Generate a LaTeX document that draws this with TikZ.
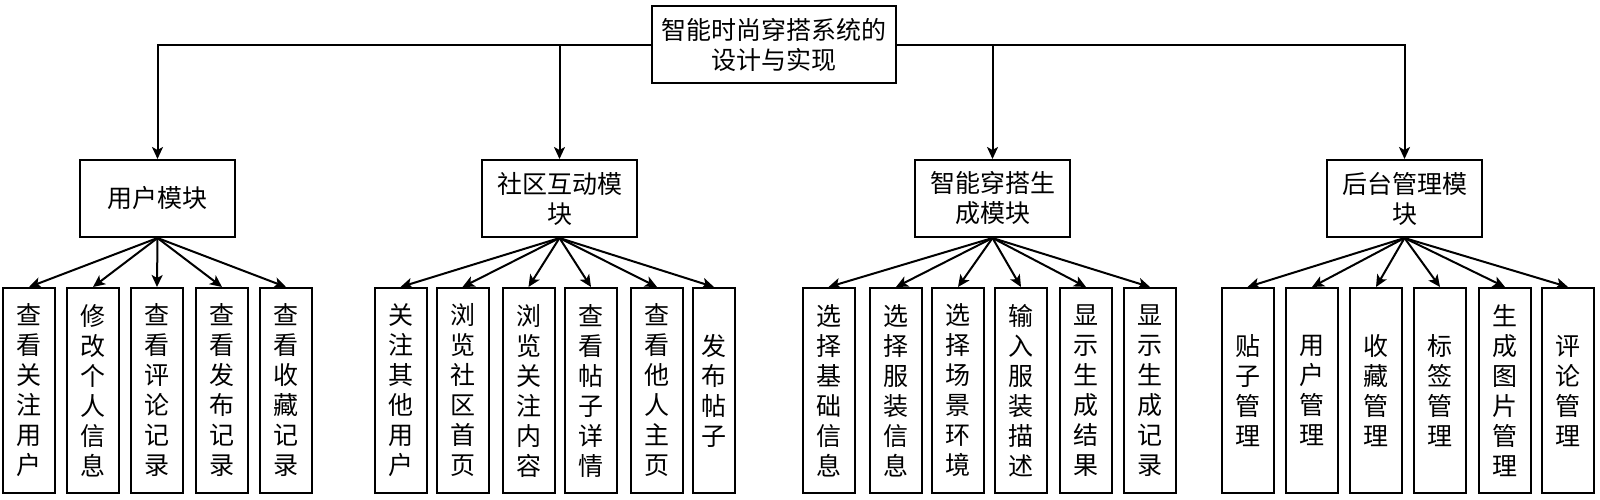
\documentclass[tikz,border=0pt]{standalone}
\usepackage{fontspec}
\newfontfamily\cjk{Noto Sans CJK SC}
\usetikzlibrary{arrows.meta}
\begin{document}
\begin{tikzpicture}[x=1pt,y=-1pt,
		every node/.style={font=\cjk\fontsize{25}{30}\selectfont, align=center, inner sep=0pt},
		box/.style={draw, line width=2pt},
		mod/.style={box, minimum width=155pt, minimum height=77pt},
		leaf/.style={box, minimum width=52pt, minimum height=205pt},
		arr/.style={line width=2pt, -{Stealth[length=12pt,width=11pt,inset=3pt]}}]
		\useasboundingbox (0,0) rectangle (1600,499);
		\node[box, minimum width=244pt, minimum height=77pt] (root) at (774,44.5) {智能时尚穿搭系统的\\设计与实现};
		\node[mod] (user) at (157.5,198.5) {用户模块};
		\node[mod] (comm) at (559.5,198.5) {社区互动模\\块};
		\node[mod] (gen) at (992.5,198.5) {智能穿搭生\\成模块};
		\node[mod] (admin) at (1404.5,198.5) {后台管理模\\块};
		\draw[arr] (root.west) -| (user.north);
		\draw[arr] (root.east) -| (admin.north);
		\draw[arr] (comm.north |- root.west) -- (comm.north);
		\draw[arr] (gen.north |- root.east) -- (gen.north);
		% leaves
		\foreach \n/\x/\t in {u1/29/{查\\看\\关\\注\\用\\户}, u2/93/{修\\改\\个\\人\\信\\息},
			u3/157/{查\\看\\评\\论\\记\\录}, u4/222/{查\\看\\发\\布\\记\\录}, u5/286/{查\\看\\收\\藏\\记\\录}}
		{
			\node[leaf] (\n) at (\x,390.5) {\t};
			\draw[arr] (user.south) -- (\n.north);
		}
		\foreach \n/\x/\t in {c1/400.5/{关\\注\\其\\他\\用\\户}, c2/462.5/{浏\\览\\社\\区\\首\\页},
			c3/528.5/{浏\\览\\关\\注\\内\\容}, c4/591/{查\\看\\帖\\子\\详\\情}, c5/657/{查\\看\\他\\人\\主\\页}}
		{
			\node[leaf] (\n) at (\x,390.5) {\t};
			\draw[arr] (comm.south) -- (\n.north);
		}
		\node[leaf, minimum width=42pt] (c6) at (714,390.5) {发\\布\\帖\\子};
		\draw[arr] (comm.south) -- (c6.north);
		\foreach \n/\x/\t in {g1/828.5/{选\\择\\基\\础\\信\\息}, g2/896/{选\\择\\服\\装\\信\\息},
			g3/958/{选\\择\\场\\景\\环\\境}, g4/1021/{输\\入\\服\\装\\描\\述},
			g5/1086/{显\\示\\生\\成\\结\\果}, g6/1150/{显\\示\\生\\成\\记\\录}}
		{
			\node[leaf] (\n) at (\x,390.5) {\t};
			\draw[arr] (gen.south) -- (\n.north);
		}
		\foreach \n/\x/\t in {a1/1247.5/{贴\\子\\管\\理}, a2/1312/{用\\户\\管\\理},
			a3/1376/{收\\藏\\管\\理}, a4/1440/{标\\签\\管\\理},
			a5/1505/{生\\成\\图\\片\\管\\理}, a6/1568/{评\\论\\管\\理}}
		{
			\node[leaf] (\n) at (\x,390.5) {\t};
			\draw[arr] (admin.south) -- (\n.north);
		}
	\end{tikzpicture}
\end{document}
